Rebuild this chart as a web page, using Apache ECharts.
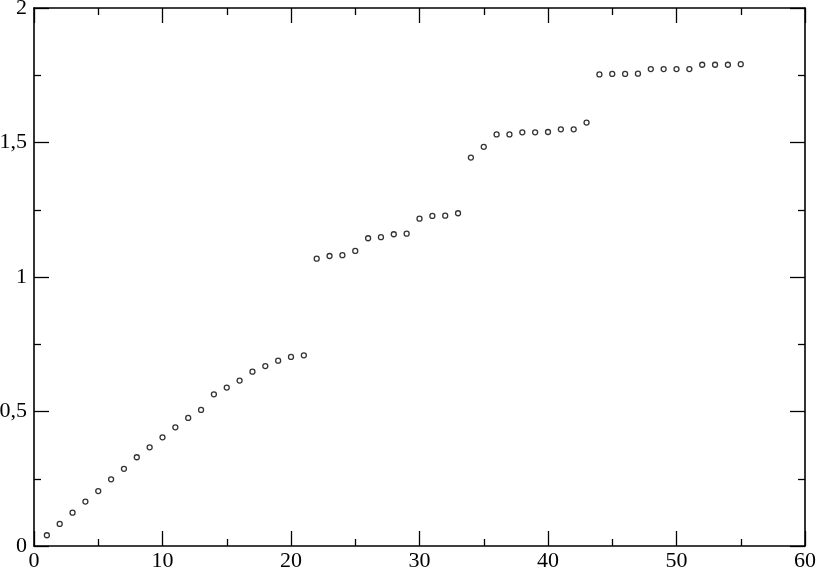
<!DOCTYPE html>
<html><head><meta charset="utf-8">
<script src="https://cdn.jsdelivr.net/npm/echarts@6/dist/echarts.min.js"></script>
<style>html,body{margin:0;padding:0;background:#fff}#c{width:817px;height:572px}</style>
</head><body><div id="c"></div>
<script>
const xValues = [1,2,3,4,5,6,7,8,9,10,11,12,13,14,15,16,17,18,19,20,21,22,23,24,25,26,27,28,29,30,31,32,33,34,35,36,37,38,39,40,41,42,43,44,45,46,47,48,49,50,51,52,53,54,55];
const yValues = [0.040,0.082,0.124,0.165,0.204,0.248,0.287,0.330,0.367,0.404,0.441,0.476,0.506,0.564,0.589,0.615,0.648,0.669,0.689,0.703,0.709,
  1.068,1.078,1.081,1.097,1.144,1.148,1.159,1.161,1.217,1.227,1.228,1.237,1.444,1.484,
  1.530,1.530,1.538,1.538,1.539,1.549,1.549,1.574,
  1.753,1.755,1.755,1.756,1.773,1.773,1.773,1.773,1.789,1.789,1.789,1.791];
const xTicks = [0,10,20,30,40,50,60];
const yTicks = ['0','0,5','1','1,5','2'];

const font = 'Liberation Serif';
const lineStyle = {color:'#000', width:1.6};
function axisBase(extra){
  return Object.assign({
    axisLine:{show:true, onZero:false, lineStyle},
    axisTick:{show:true, inside:true, length:15, lineStyle:{color:'#000', width:1.3}},
    minorTick:{show:true, splitNumber:2, length:7, lineStyle:{color:'#000', width:1.3}},
    splitLine:{show:false}
  }, extra);
}
const chart = echarts.init(document.getElementById('c'));
chart.setOption({
  animation:false,
  grid:{left:34, right:12, top:8, bottom:26, containLabel:false, outerBoundsMode:'none'},
  xAxis:[
    axisBase({type:'value', min:0, max:60, interval:10, position:'bottom',
      axisLabel:{color:'#000', fontFamily:font, fontSize:22, margin:4,
        formatter:v=>String(xTicks[Math.round(v/10)])}}),
    axisBase({type:'value', min:0, max:60, interval:10, position:'top', axisLabel:{show:false}})
  ],
  yAxis:[
    axisBase({type:'value', min:0, max:2, interval:0.5, position:'left',
      axisLabel:{color:'#000', fontFamily:font, fontSize:22, margin:7,
        formatter:v=>yTicks[Math.round(v/0.5)]}}),
    axisBase({type:'value', min:0, max:2, interval:0.5, position:'right', axisLabel:{show:false}})
  ],
  series:[{
    type:'scatter',
    data:xValues.map((x,i)=>[x,yValues[i]]),
    symbol:'circle', symbolSize:5,
    itemStyle:{color:'#fff', borderColor:'#000', borderWidth:1.3}
  }]
});
</script></body></html>
